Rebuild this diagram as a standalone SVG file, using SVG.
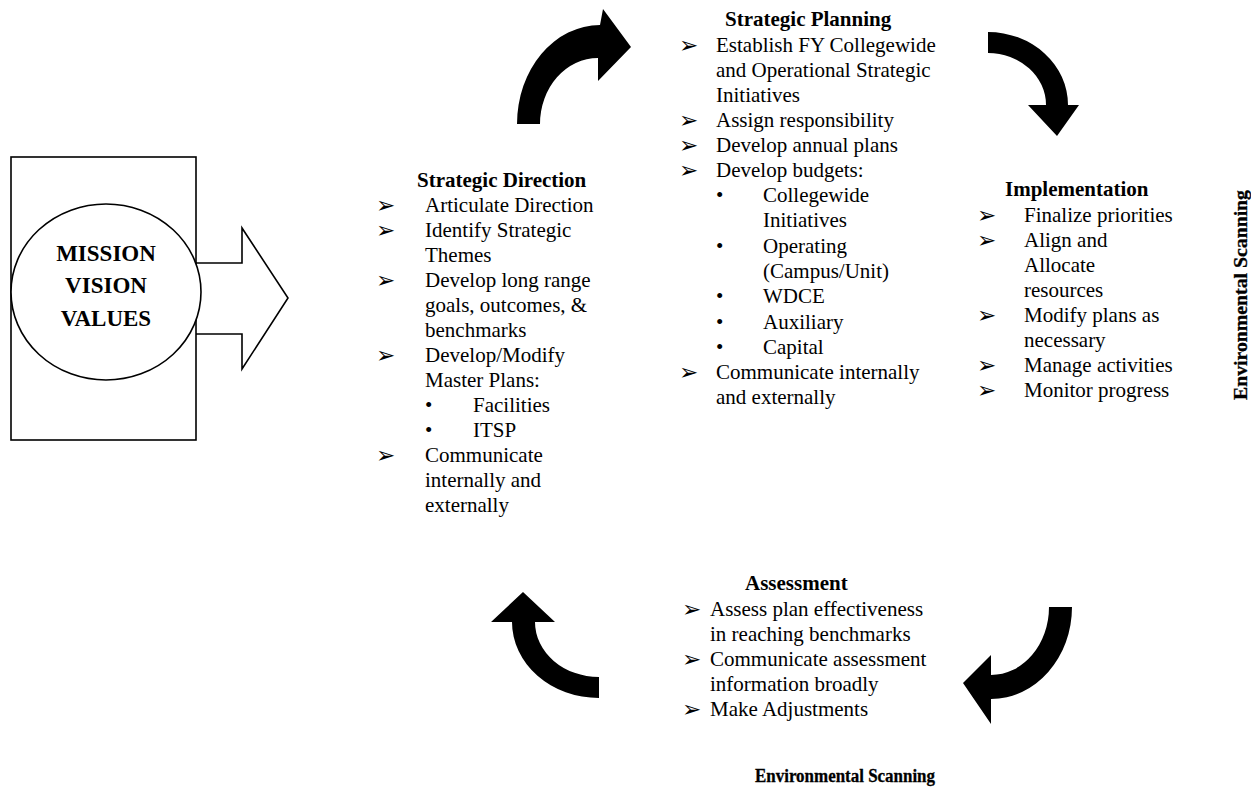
<svg xmlns="http://www.w3.org/2000/svg" width="1251" height="796" viewBox="0 0 1251 796">
<style>
text{font-family:"Liberation Serif","Times New Roman",serif;font-size:21px;fill:#000}
.h{font-weight:bold}
.m{font-weight:bold;font-size:23px;text-anchor:middle}
.ar{font-family:"DejaVu Sans",sans-serif;font-size:23px}
.env{font-family:"Liberation Serif",serif;font-weight:bold;font-size:18px;text-anchor:middle;stroke:#000;stroke-width:0.3}
.ca{fill:#000;stroke:none}
.ln{fill:#fff;stroke:#000;stroke-width:1.6}
</style>
<rect width="1251" height="796" fill="#fff"/>
<g id="connectors">
<polygon class="ln" points="180,263 242,263 242,228 288,298 242,369 242,334 180,334"/>
<path class="ca" d="M517,124 A83,99 0 0 1 600,25 L603,9 L631,47 L598,81 L598,58 A58,66 0 0 0 540,124 Z"/>
<path class="ca" d="M988,32 A80,73 0 0 1 1068,105 L1079,105 L1057,136 L1028,105 L1046,105 A58,52 0 0 0 988,53 Z"/>
<path class="ca" d="M1072,607 A81,92 0 0 1 991,699 L991,724 L963,683 L991,655 L991,675 A58,68 0 0 0 1049,607 Z"/>
<path class="ca" d="M599,698 A87,76 0 0 1 512,622 L491,622 L523,592 L555,622 L535,622 A64,55 0 0 0 599,677 Z"/>
</g>
<g id="mission">
<rect class="ln" x="11" y="157" width="185" height="283"/>
<ellipse class="ln" cx="106" cy="292" rx="95" ry="88"/>
<text class="m" x="106" y="261">MISSION</text>
<text class="m" x="106" y="293">VISION</text>
<text class="m" x="106" y="326">VALUES</text>
</g>
<g id="strategic-direction">
<text class="h" x="417" y="187">Strategic Direction</text>
<text class="ar" x="376" y="213">➢</text><text x="425" y="212">Articulate Direction</text>
<text class="ar" x="376" y="238">➢</text><text x="425" y="237">Identify Strategic</text>
<text x="425" y="262">Themes</text>
<text class="ar" x="376" y="288">➢</text><text x="425" y="287">Develop long range</text>
<text x="425" y="312">goals, outcomes, &amp;</text>
<text x="425" y="337">benchmarks</text>
<text class="ar" x="376" y="363">➢</text><text x="425" y="362">Develop/Modify</text>
<text x="425" y="387">Master Plans:</text>
<text x="425" y="412">•</text><text x="473" y="412">Facilities</text>
<text x="425" y="437">•</text><text x="473" y="437">ITSP</text>
<text class="ar" x="376" y="463">➢</text><text x="425" y="462">Communicate</text>
<text x="425" y="487">internally and</text>
<text x="425" y="512">externally</text>
</g>
<g id="strategic-planning">
<text class="h" x="725" y="26">Strategic Planning</text>
<text class="ar" x="679" y="53">➢</text><text x="716" y="52">Establish FY Collegewide</text>
<text x="716" y="77">and Operational Strategic</text>
<text x="716" y="102">Initiatives</text>
<text class="ar" x="679" y="128">➢</text><text x="716" y="127">Assign responsibility</text>
<text class="ar" x="679" y="153">➢</text><text x="716" y="152">Develop annual plans</text>
<text class="ar" x="679" y="178">➢</text><text x="716" y="177">Develop budgets:</text>
<text x="716" y="202">•</text><text x="763" y="202">Collegewide</text>
<text x="763" y="227">Initiatives</text>
<text x="716" y="253">•</text><text x="763" y="253">Operating</text>
<text x="763" y="278">(Campus/Unit)</text>
<text x="716" y="303">•</text><text x="763" y="303">WDCE</text>
<text x="716" y="329">•</text><text x="763" y="329">Auxiliary</text>
<text x="716" y="354">•</text><text x="763" y="354">Capital</text>
<text class="ar" x="679" y="380">➢</text><text x="716" y="379">Communicate internally</text>
<text x="716" y="404">and externally</text>
</g>
<g id="implementation">
<text class="h" x="1005" y="196">Implementation</text>
<text class="ar" x="977" y="223">➢</text><text x="1024" y="222">Finalize priorities</text>
<text class="ar" x="977" y="248">➢</text><text x="1024" y="247">Align and</text>
<text x="1024" y="272">Allocate</text>
<text x="1024" y="297">resources</text>
<text class="ar" x="977" y="323">➢</text><text x="1024" y="322">Modify plans as</text>
<text x="1024" y="347">necessary</text>
<text class="ar" x="977" y="373">➢</text><text x="1024" y="372">Manage activities</text>
<text class="ar" x="977" y="398">➢</text><text x="1024" y="397">Monitor progress</text>
</g>
<g id="assessment">
<text class="h" x="745" y="590">Assessment</text>
<text class="ar" x="682" y="617">➢</text><text x="710" y="616">Assess plan effectiveness</text>
<text x="710" y="641">in reaching benchmarks</text>
<text class="ar" x="682" y="667">➢</text><text x="710" y="666">Communicate assessment</text>
<text x="710" y="691">information broadly</text>
<text class="ar" x="682" y="717">➢</text><text x="710" y="716">Make Adjustments</text>
</g>
<g id="env-bottom">
<text class="env" x="845" y="782" textLength="180" lengthAdjust="spacingAndGlyphs">Environmental Scanning</text>
</g>
<g id="env-right">
<text class="env" transform="translate(1247,295) rotate(-90)" x="0" y="0" textLength="210" lengthAdjust="spacingAndGlyphs">Environmental Scanning</text>
</g>
</svg>
